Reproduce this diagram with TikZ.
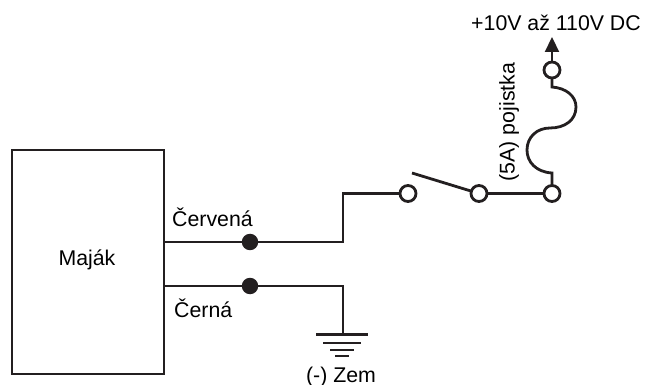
\documentclass[tikz,border=0pt]{standalone}
\usepackage{fontspec}
\setmainfont{Liberation Sans}
\usetikzlibrary{arrows.meta}
\definecolor{ink}{HTML}{231F20}
\tikzset{x=1pt,y=-1pt,
  wire/.style={draw=ink,line width=2.8pt},
  term/.style={circle,draw=ink,fill=white,line width=2.8pt,minimum size=16pt,inner sep=0pt},
  dotn/.style={circle,fill=ink,minimum size=16.5pt,inner sep=0pt},
  lbl/.style={text=black,font=\fontsize{21.3}{24}\selectfont,inner sep=0pt},
  gnd/.style={draw=ink,line width=2.8pt}}
\begin{document}
\begin{tikzpicture}
\useasboundingbox (0,0) rectangle (646,385);
\node[draw=ink,line width=2.8pt,minimum width=152pt,minimum height=224pt,inner sep=0pt] (box) at (88,262) {};
\node[lbl] (majak) at (87,260) {Maják};
\coordinate (rs) at (164,242);
\coordinate (bs) at (164,286);
\node[dotn] (rd) at (250,242) {};
\node[dotn] (bd) at (250,286) {};
\coordinate (rc) at (343,242);
\coordinate (rt) at (343,193.5);
\coordinate (bc) at (343,286);
\coordinate (g1) at (343,334.5);
\coordinate (lev) at (412,173);
\coordinate (f1) at (552,173);
\coordinate (f2) at (552,87);
\coordinate (tip) at (552,37);
\coordinate (c1) at (408,193.5);
\coordinate (c2) at (479,193.5);
\coordinate (c3) at (552,193.5);
\coordinate (c4) at (552,70);
\draw[wire,line join=miter] (rs) -- (rd) -- (rc) -- (rt) -- (c1);
\draw[wire,line join=miter] (bs) -- (bd) -- (bc) -- (g1);
\draw[wire] (lev) -- (c2);
\draw[wire] (c2) -- (c3);
\draw[wire] (c3) -- (f1)
  .. controls (536,172) and (527,162) .. (527,150)
  .. controls (527,137) and (537,128) .. (550,128)
  .. controls (565,128) and (576,120) .. (576,107)
  .. controls (576,96) and (566,88) .. (552,87)
  -- (c4);
\draw[draw=ink,line width=2.2pt,-{Triangle[length=15pt,width=14pt]}] (c4) -- (tip);
\node[term] (t1) at (c1) {};
\node[term] (t2) at (c2) {};
\node[term] (t3) at (c3) {};
\node[term] (t4) at (c4) {};
\draw[gnd] (316,334.5) -- (368,334.5);
\draw[gnd] (323,343) -- (361,343);
\draw[gnd] (330,350) -- (354,350);
\draw[gnd] (335,356) -- (349,356);
\node[lbl] (vplus) at (556,23) {+10V až 110V DC};
\node[lbl,rotate=90] (fuse) at (509,122) {(5A) pojistka};
\node[lbl,anchor=base west] (cerv) at (172,227) {Červená};
\node[lbl,anchor=base west] (cern) at (174,317) {Černá};
\node[lbl,anchor=base] (zem) at (341,382) {(-) Zem};
\end{tikzpicture}
\end{document}
